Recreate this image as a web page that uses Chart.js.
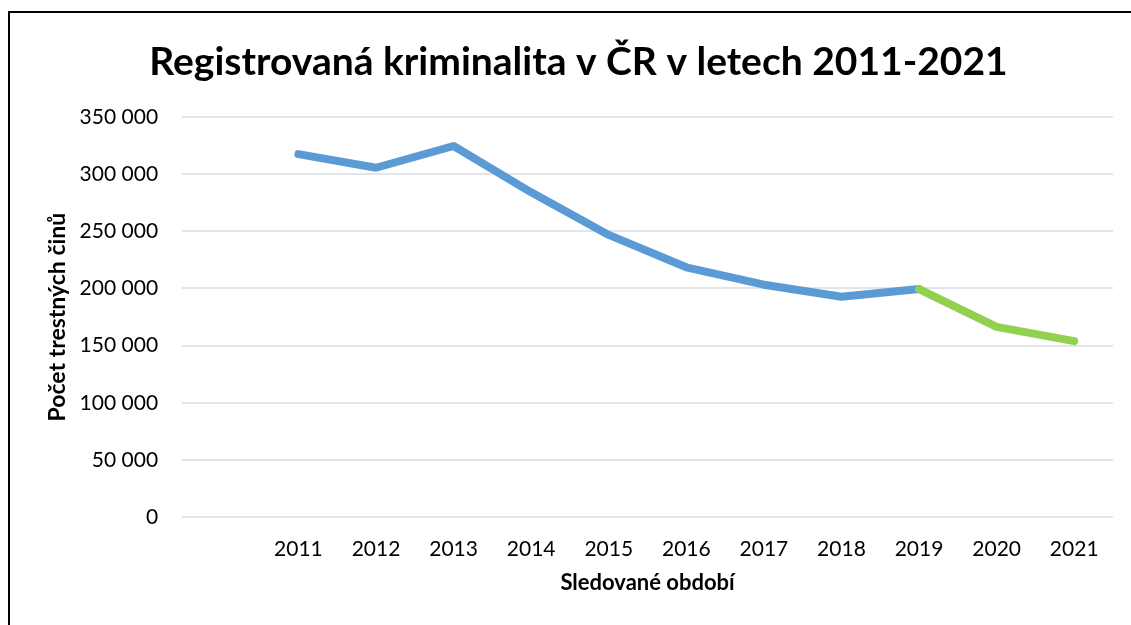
<!DOCTYPE html>
<html lang="cs">
<head>
<meta charset="utf-8">
<title>Registrovaná kriminalita v ČR</title>
<script src="https://cdn.jsdelivr.net/npm/chart.js@4/dist/chart.umd.min.js"></script>
<style>
    html, body { margin: 0; padding: 0; background: #fff; overflow: hidden; }
    .frame {
        position: absolute;
        left: 8px;
        top: 11px;
        width: 1200px;
        height: 700px;
        border: 2px solid #000;
    }
    .wrap { position: absolute; left: 0; top: 0; width: 1131px; height: 625px; }
</style>
</head>
<body>
<div class="frame"></div>
<div class="wrap"><canvas id="chart" width="1131" height="625"></canvas></div>
<script>
// Data
const years = ['2011', '2012', '2013', '2014', '2015', '2016', '2017', '2018', '2019', '2020', '2021'];
const crimes = [317400, 305500, 324500, 284000, 246800, 218500, 203300, 192800, 199500, 166500, 154000];
const yTicks = [0, 50000, 100000, 150000, 200000, 250000, 300000, 350000];

const blue = '#5B9BD5';
const green = '#92D050';
const greenFrom = '2019'; // segments after this year are green

// an empty slot before 2011, like in the original
const labels = [''].concat(years);
const values = [null].concat(crimes);
const greenIndex = labels.indexOf(greenFrom);

function formatThousands(v) {
    return String(v).replace(/\B(?=(\d{3})+(?!\d))/g, ' ');
}

const ctx = document.getElementById('chart').getContext('2d');
new Chart(ctx, {
    type: 'line',
    data: {
        labels: labels,
        datasets: [{
            data: values,
            borderColor: blue,
            borderWidth: 8,
            borderCapStyle: 'round',
            borderJoinStyle: 'round',
            pointRadius: 0,
            tension: 0,
            fill: false,
            segment: {
                borderColor: c => c.p0DataIndex >= greenIndex ? green : blue
            }
        }]
    },
    options: {
        responsive: false,
        animation: false,
        layout: {
            padding: { left: 44, right: 18, top: 39, bottom: 29 }
        },
        plugins: {
            legend: { display: false },
            tooltip: { enabled: false },
            title: {
                display: true,
                text: 'Registrovaná kriminalita v ČR v letech 2011-2021',
                color: '#000',
                font: { family: 'Lato', size: 39, weight: 'bold' },
                padding: { top: 0, bottom: 31 }
            }
        },
        scales: {
            x: {
                offset: true,
                grid: { display: false, drawTicks: false },
                border: { display: false },
                ticks: {
                    color: '#000',
                    font: { family: 'Lato', size: 21 },
                    padding: 19,
                    maxRotation: 0,
                    autoSkip: false
                },
                title: {
                    display: true,
                    text: 'Sledované období',
                    color: '#000',
                    font: { family: 'Lato', size: 22, weight: 'bold' },
                    padding: { top: -11, bottom: 0 }
                }
            },
            y: {
                min: 0,
                max: 350000,
                afterBuildTicks: axis => {
                    axis.ticks = yTicks.map(v => ({ value: v }));
                },
                grid: { color: '#E1E5EA', lineWidth: 2, drawTicks: false },
                border: { display: false },
                ticks: {
                    color: '#000',
                    font: { family: 'Lato', size: 21 },
                    padding: 24,
                    callback: v => formatThousands(v)
                },
                title: {
                    display: true,
                    text: 'Počet trestných činů',
                    color: '#000',
                    font: { family: 'Lato', size: 23, weight: 'bold' },
                    padding: { top: 0, bottom: -16 }
                }
            }
        }
    }
});
</script>
</body>
</html>
